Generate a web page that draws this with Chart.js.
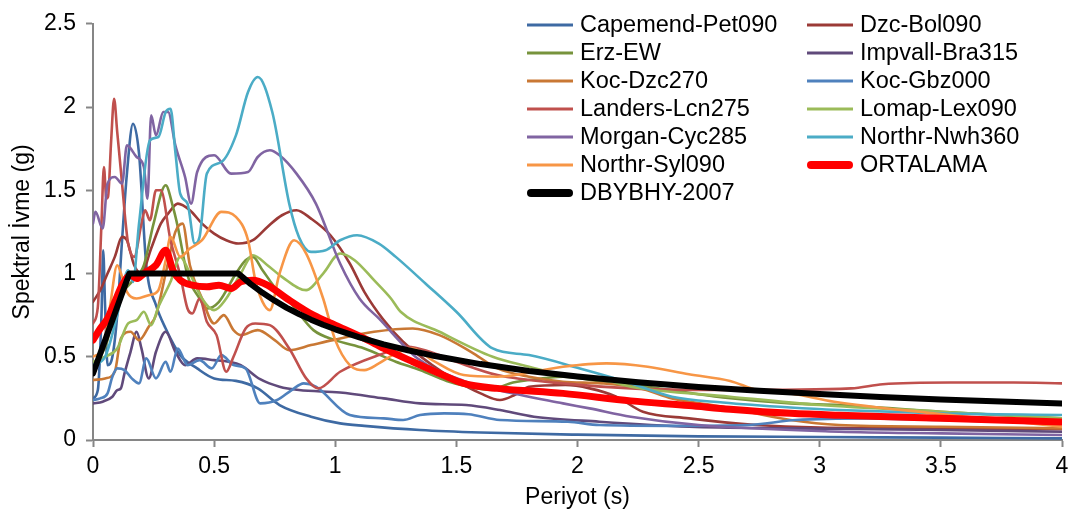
<!DOCTYPE html>
<html>
<head>
<meta charset="utf-8">
<script src="https://cdn.jsdelivr.net/npm/chart.js@4.4.1/dist/chart.umd.min.js"></script>
<style>
  html, body { margin: 0; padding: 0; background: #fff; }
  #wrap { width: 1079px; height: 517px; }
</style>
</head>
<body>
<div id="wrap"><canvas id="spectra" width="1079" height="517"></canvas></div>
<script>
// Response spectra, each point is [period T (s), spectral acceleration Sa (g)]
const capemend = [[0,0.25],[0.02,0.3],[0.035,0.75],[0.042,1.14],[0.05,0.8],[0.06,0.45],[0.08,0.5],[0.1,0.75],[0.12,1.2],[0.14,1.6],[0.165,1.9],[0.19,1.72],[0.22,1.05],[0.26,0.81],[0.3,0.67],[0.36,0.51],[0.43,0.43],[0.5,0.37],[0.59,0.355],[0.68,0.31],[0.77,0.21],[0.9,0.14],[1.02,0.1],[1.12,0.085],[1.35,0.06],[1.6,0.045],[2.0,0.032],[2.5,0.022],[3.0,0.018],[3.5,0.014],[4.0,0.01]];
const dzcBol = [[0,0.83],[0.03,0.9],[0.06,1.0],[0.09,1.1],[0.12,1.22],[0.14,1.2],[0.17,1.05],[0.2,1.0],[0.24,1.15],[0.28,1.3],[0.31,1.36],[0.35,1.42],[0.4,1.38],[0.45,1.3],[0.5,1.24],[0.55,1.2],[0.6,1.18],[0.66,1.2],[0.72,1.28],[0.78,1.35],[0.84,1.38],[0.9,1.33],[0.98,1.23],[1.06,1.06],[1.12,0.89],[1.2,0.72],[1.28,0.59],[1.4,0.45],[1.5,0.355],[1.6,0.28],[1.68,0.24],[1.74,0.27],[1.8,0.32],[1.95,0.33],[2.05,0.31],[2.16,0.26],[2.27,0.17],[2.46,0.13],[2.74,0.09],[3.0,0.075],[3.5,0.07],[4.0,0.065]];
const erz = [[0,0.45],[0.03,0.5],[0.06,0.6],[0.08,0.75],[0.1,0.8],[0.125,0.89],[0.16,0.95],[0.21,1.05],[0.25,1.3],[0.3,1.53],[0.33,1.4],[0.35,1.28],[0.39,0.99],[0.44,0.85],[0.47,0.79],[0.52,0.83],[0.59,1.0],[0.63,1.08],[0.66,1.1],[0.7,1.02],[0.76,0.9],[0.8,0.85],[0.91,0.66],[1.0,0.6],[1.12,0.55],[1.25,0.47],[1.35,0.42],[1.46,0.355],[1.55,0.32],[1.64,0.3],[1.72,0.34],[1.8,0.36],[1.94,0.38],[2.1,0.35],[2.26,0.325],[2.6,0.255],[2.88,0.22],[3.08,0.21],[3.5,0.17],[4.0,0.13]];
const impvall = [[0,0.22],[0.04,0.23],[0.08,0.26],[0.1,0.3],[0.115,0.31],[0.13,0.4],[0.155,0.53],[0.18,0.65],[0.2,0.55],[0.23,0.37],[0.26,0.53],[0.3,0.65],[0.34,0.53],[0.38,0.45],[0.43,0.49],[0.5,0.48],[0.56,0.47],[0.61,0.45],[0.69,0.365],[0.77,0.32],[0.85,0.3],[1.02,0.285],[1.2,0.25],[1.35,0.22],[1.54,0.21],[1.68,0.18],[1.82,0.14],[2.09,0.11],[2.46,0.08],[2.88,0.07],[3.5,0.06],[4.0,0.05]];
const kocDzc = [[0,0.36],[0.05,0.37],[0.09,0.41],[0.115,0.61],[0.155,0.65],[0.19,0.6],[0.23,0.68],[0.26,0.75],[0.3,1.0],[0.34,1.25],[0.37,1.3],[0.4,1.05],[0.45,0.85],[0.5,0.7],[0.54,0.75],[0.58,0.66],[0.61,0.63],[0.68,0.66],[0.75,0.6],[0.81,0.54],[0.9,0.57],[0.99,0.6],[1.16,0.65],[1.32,0.67],[1.43,0.63],[1.56,0.53],[1.67,0.43],[1.8,0.38],[1.94,0.35],[2.1,0.34],[2.26,0.31],[2.39,0.25],[2.6,0.2],[2.88,0.12],[3.08,0.09],[3.5,0.08],[4.0,0.07]];
const kocGbz = [[0,0.24],[0.03,0.25],[0.06,0.28],[0.08,0.38],[0.1,0.43],[0.13,0.42],[0.16,0.37],[0.19,0.34],[0.22,0.49],[0.26,0.37],[0.3,0.47],[0.32,0.41],[0.35,0.55],[0.39,0.45],[0.44,0.48],[0.49,0.43],[0.53,0.51],[0.58,0.45],[0.63,0.43],[0.69,0.22],[0.76,0.24],[0.82,0.3],[0.87,0.34],[0.92,0.32],[1.06,0.15],[1.2,0.13],[1.28,0.12],[1.35,0.15],[1.45,0.16],[1.55,0.155],[1.68,0.12],[1.96,0.11],[2.09,0.09],[2.4,0.085],[2.7,0.09],[2.9,0.12],[3.2,0.13],[3.5,0.12],[4.0,0.1]];
const landers = [[0,0.7],[0.02,0.8],[0.035,1.3],[0.045,1.64],[0.055,1.45],[0.062,1.46],[0.075,1.8],[0.087,2.05],[0.1,1.85],[0.12,1.54],[0.135,1.3],[0.145,1.18],[0.17,1.1],[0.2,1.3],[0.215,1.38],[0.235,1.32],[0.26,1.5],[0.28,1.5],[0.32,1.2],[0.36,0.99],[0.39,0.79],[0.41,0.76],[0.44,0.85],[0.47,0.71],[0.51,0.63],[0.55,0.41],[0.58,0.5],[0.63,0.67],[0.67,0.7],[0.73,0.69],[0.81,0.55],[0.88,0.37],[0.93,0.31],[1.02,0.41],[1.18,0.51],[1.3,0.56],[1.39,0.53],[1.5,0.47],[1.67,0.39],[1.94,0.34],[2.22,0.31],[2.63,0.3],[3.13,0.31],[3.26,0.335],[3.54,0.345],[3.8,0.345],[4.0,0.34]];
const lomap = [[0,0.47],[0.05,0.5],[0.1,0.55],[0.145,0.7],[0.18,0.72],[0.21,0.77],[0.24,0.69],[0.27,0.8],[0.32,0.95],[0.36,1.1],[0.4,1.0],[0.45,0.85],[0.5,0.78],[0.55,0.85],[0.61,1.0],[0.66,1.11],[0.72,1.05],[0.78,0.98],[0.88,0.9],[0.95,1.0],[1.02,1.12],[1.08,1.08],[1.16,0.96],[1.23,0.85],[1.27,0.77],[1.43,0.65],[1.65,0.5],[1.8,0.44],[1.94,0.39],[2.09,0.37],[2.22,0.32],[2.63,0.26],[3.0,0.21],[3.5,0.17],[4.0,0.13]];
const morgan = [[0,1.3],[0.01,1.37],[0.04,1.27],[0.06,1.54],[0.09,1.58],[0.12,1.54],[0.14,1.77],[0.18,1.7],[0.21,1.64],[0.225,1.45],[0.24,1.95],[0.26,1.83],[0.29,1.97],[0.31,1.97],[0.34,1.77],[0.38,1.58],[0.405,1.42],[0.43,1.61],[0.5,1.71],[0.57,1.6],[0.64,1.61],[0.68,1.7],[0.73,1.74],[0.77,1.71],[0.84,1.6],[0.92,1.42],[1.02,1.06],[1.1,0.85],[1.18,0.73],[1.34,0.49],[1.53,0.355],[1.67,0.3],[1.94,0.22],[2.05,0.19],[2.22,0.14],[2.5,0.09],[3.08,0.05],[3.5,0.04],[4.0,0.03]];
const nwh360 = [[0,0.45],[0.05,0.5],[0.1,0.75],[0.145,1.02],[0.165,0.95],[0.19,1.3],[0.235,1.8],[0.27,1.82],[0.3,1.97],[0.32,1.99],[0.34,1.73],[0.36,1.48],[0.39,1.42],[0.42,1.18],[0.44,1.22],[0.47,1.6],[0.53,1.67],[0.59,1.83],[0.64,2.09],[0.68,2.18],[0.74,1.97],[0.81,1.42],[0.85,1.22],[0.9,1.13],[0.96,1.14],[1.02,1.2],[1.09,1.23],[1.18,1.18],[1.25,1.1],[1.38,0.93],[1.5,0.77],[1.65,0.55],[1.8,0.51],[2.01,0.43],[2.19,0.355],[2.39,0.26],[2.6,0.225],[2.88,0.195],[3.08,0.18],[3.5,0.16],[4.0,0.15]];
const syl090 = [[0,0.5],[0.04,0.55],[0.07,0.8],[0.1,1.05],[0.12,0.98],[0.14,0.89],[0.18,0.85],[0.23,0.87],[0.27,0.9],[0.3,1.08],[0.32,1.22],[0.36,1.1],[0.4,1.15],[0.45,1.2],[0.53,1.37],[0.59,1.34],[0.64,1.2],[0.67,0.96],[0.7,0.83],[0.73,0.78],[0.77,1.0],[0.83,1.2],[0.88,1.12],[0.95,0.85],[1.0,0.6],[1.06,0.45],[1.12,0.42],[1.18,0.46],[1.25,0.52],[1.32,0.55],[1.4,0.48],[1.53,0.39],[1.67,0.38],[1.94,0.44],[2.12,0.46],[2.29,0.44],[2.46,0.395],[2.63,0.355],[2.74,0.3],[2.88,0.28],[3.06,0.23],[3.47,0.16],[4.0,0.08]];
const ortalama = [[0,0.6],[0.03,0.67],[0.06,0.73],[0.09,0.83],[0.12,0.93],[0.155,0.99],[0.18,0.97],[0.21,1.0],[0.26,1.05],[0.3,1.14],[0.33,1.02],[0.36,0.96],[0.41,0.93],[0.47,0.92],[0.52,0.93],[0.57,0.91],[0.61,0.95],[0.66,0.96],[0.72,0.93],[0.8,0.85],[0.91,0.75],[1.0,0.69],[1.12,0.61],[1.2,0.55],[1.32,0.47],[1.43,0.4],[1.53,0.34],[1.67,0.31],[1.94,0.28],[2.22,0.235],[2.46,0.207],[2.63,0.185],[2.88,0.16],[3.08,0.148],[3.5,0.13],[4.0,0.108]];
const dbybhy = [[0,0.4],[0.15,1.0],[0.6,1.0],[0.65,0.938],[0.7,0.884],[0.75,0.837],[0.8,0.794],[0.85,0.757],[0.9,0.723],[0.95,0.692],[1.0,0.665],[1.1,0.616],[1.2,0.574],[1.3,0.539],[1.4,0.508],[1.6,0.456],[1.8,0.415],[2.0,0.382],[2.25,0.347],[2.5,0.319],[2.75,0.296],[3.0,0.276],[3.25,0.259],[3.5,0.244],[3.75,0.231],[4.0,0.219]];

const seriesNames = ['Capemend-Pet090', 'Dzc-Bol090', 'Erz-EW', 'Impvall-Bra315', 'Koc-Dzc270', 'Koc-Gbz000',
  'Landers-Lcn275', 'Lomap-Lex090', 'Morgan-Cyc285', 'Northr-Nwh360', 'Northr-Syl090', 'ORTALAMA', 'DBYBHY-2007'];
const seriesValues = [capemend, dzcBol, erz, impvall, kocDzc, kocGbz, landers, lomap, morgan, nwh360, syl090, ortalama, dbybhy];
const periodTicks = [0, 0.5, 1, 1.5, 2, 2.5, 3, 3.5, 4];
const accelTicks = [0, 0.5, 1, 1.5, 2, 2.5];

const lineColors = ['#3E6AA3', '#9B3A37', '#77933C', '#604A7B', '#C97834', '#4F81BD',
  '#C0504D', '#9BBB59', '#8064A2', '#4BACC6', '#F79646', '#FF0000', '#000000'];

const FONT = "'Liberation Sans', Arial, sans-serif";
const AXIS_GREY = '#868686';

const datasets = seriesValues.map((pts, i) => {
  const isMean = seriesNames[i] === 'ORTALAMA';
  const isCode = seriesNames[i] === 'DBYBHY-2007';
  return {
    label: seriesNames[i],
    data: pts.map(p => ({ x: p[0], y: p[1] })),
    borderColor: lineColors[i],
    backgroundColor: lineColors[i],
    borderWidth: isMean ? 7 : (isCode ? 6 : 2.6),
    pointRadius: 0,
    borderJoinStyle: 'round',
    borderCapStyle: 'round',
    cubicInterpolationMode: isCode ? 'default' : 'monotone',
    tension: 0,
    fill: false,
    // later series sit on top (mean, then code spectrum last)
    order: seriesValues.length - 1 - i
  };
});

// two-column legend drawn over the upper right of the plot
const legendBox = {
  id: 'legendBox',
  afterDraw(chart) {
    const ctx = chart.ctx;
    const colX = [527, 807];
    const rowY0 = 25, rowH = 28;
    const sample = 46, gap = 7;
    ctx.save();
    ctx.font = '23.5px ' + FONT;
    ctx.textBaseline = 'middle';
    ctx.textAlign = 'left';
    chart.data.datasets.forEach((ds, i) => {
      const x = colX[i % 2];
      const y = rowY0 + Math.floor(i / 2) * rowH;
      const thick = ds.borderWidth > 4;
      ctx.beginPath();
      ctx.lineCap = thick ? 'round' : 'butt';
      ctx.lineWidth = thick ? 8 : 3;
      ctx.strokeStyle = ds.borderColor;
      ctx.moveTo(x + (thick ? 4 : 0), y);
      ctx.lineTo(x + sample - (thick ? 4 : 0), y);
      ctx.stroke();
      ctx.fillStyle = '#000';
      ctx.fillText(ds.label, x + sample + gap, y + 1);
    });
    ctx.restore();
  }
};

const plainNumber = v => String(v);

new Chart(document.getElementById('spectra'), {
  type: 'line',
  data: { datasets },
  plugins: [legendBox],
  options: {
    responsive: false,
    animation: false,
    devicePixelRatio: 1,
    layout: { padding: { left: 0, right: 17, top: 17, bottom: 0 } },
    plugins: { legend: { display: false }, tooltip: { enabled: false } },
    scales: {
      x: {
        type: 'linear',
        min: 0,
        max: 4,
        afterFit: s => { s.height = 77; },
        afterBuildTicks: s => { s.ticks = periodTicks.map(v => ({ value: v })); },
        grid: { drawOnChartArea: false, drawTicks: true, tickLength: 7, tickColor: AXIS_GREY, tickWidth: 2 },
        border: { display: true, color: AXIS_GREY, width: 2 },
        ticks: { color: '#000', font: { family: FONT, size: 23 }, padding: 6, maxRotation: 0, callback: plainNumber },
        title: { display: true, text: 'Periyot (s)', color: '#000', font: { family: FONT, size: 23 }, padding: { top: 0, bottom: 6 } }
      },
      y: {
        type: 'linear',
        min: 0,
        max: 2.5,
        afterFit: s => { s.width = 93; },
        afterBuildTicks: s => { s.ticks = accelTicks.map(v => ({ value: v })); },
        grid: { drawOnChartArea: false, drawTicks: true, tickLength: 7, tickColor: AXIS_GREY, tickWidth: 2 },
        border: { display: true, color: AXIS_GREY, width: 2 },
        ticks: { color: '#000', font: { family: FONT, size: 23 }, padding: 10, callback: plainNumber },
        title: { display: true, text: 'Spektral İvme (g)', color: '#000', font: { family: FONT, size: 23 }, padding: { top: 9, bottom: 0 } }
      }
    }
  }
});
</script>
</body>
</html>
